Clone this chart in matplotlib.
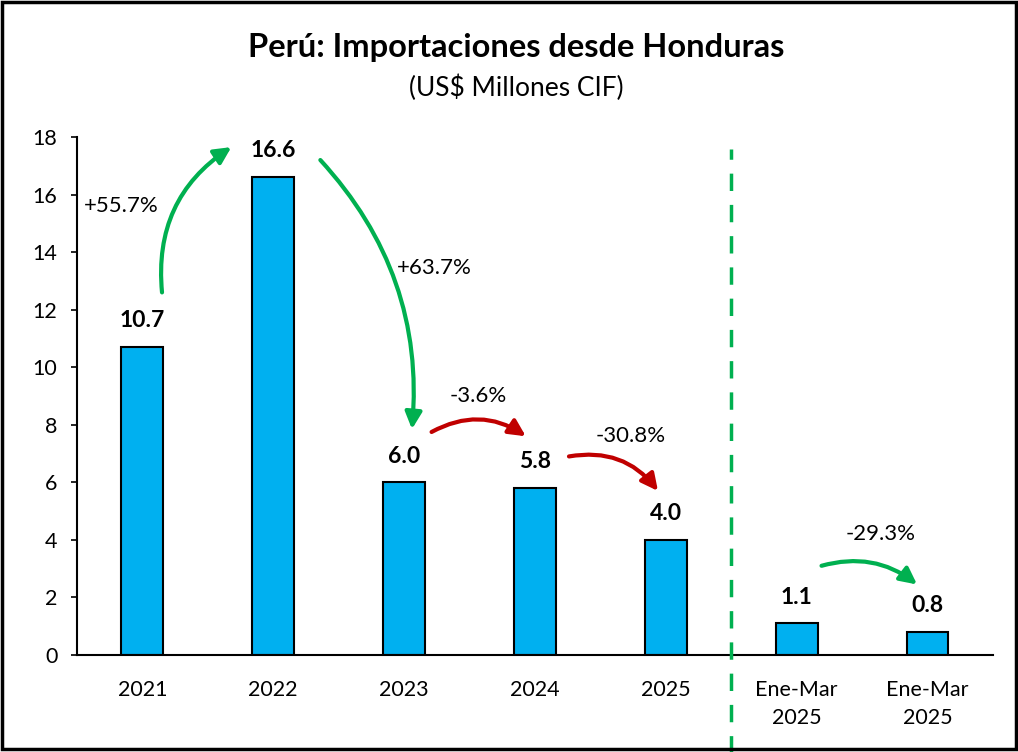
import matplotlib.pyplot as plt
from matplotlib.patches import Rectangle

plt.rcParams['font.family'] = ['Lato', 'DejaVu Sans']

# datos
categorias = ['2021', '2022', '2023', '2024', '2025', 'Ene-Mar\n2025', 'Ene-Mar\n2025']
valores = [10.7, 16.6, 6.0, 5.8, 4.0, 1.1, 0.8]
etiquetas = ['10.7', '16.6', '6.0', '5.8', '4.0', '1.1', '0.8']

# variaciones: (texto, x texto, y texto, inicio flecha, fin flecha, color, curva)
variaciones = [
    ('+55.7%', -0.16, 15.6, (0.15, 12.6), (0.68, 17.65), '#00B050', -0.3),
    ('+63.7%', 2.23, 13.45, (1.36, 17.2), (2.06, 7.85), '#00B050', -0.22),
    ('-3.6%', 2.57, 9.0, (2.21, 7.75), (2.93, 7.6), '#C00000', -0.3),
    ('-30.8%', 3.73, 7.6, (3.26, 6.9), (3.94, 5.7), '#C00000', -0.3),
    ('-29.3%', 5.64, 4.2, (5.19, 3.1), (5.92, 2.45), '#00B050', -0.25),
]

fig = plt.figure(figsize=(10.18, 7.52), dpi=100)
ax = fig.add_axes([0.0756, 0.129, 0.8998, 0.6888])

x = range(len(valores))
ax.bar(x, valores, width=0.32, color='#00B0F0', edgecolor='black', linewidth=1.5, zorder=2)

for i, v in enumerate(valores):
    ax.text(i, v + 0.55, etiquetas[i], ha='center', va='bottom', fontsize=16.5, fontweight='bold')

for txt, tx, ty, p0, p1, col, rad in variaciones:
    ax.annotate('', xy=p1, xytext=p0,
                arrowprops=dict(arrowstyle='-|>', color=col, lw=3, mutation_scale=25,
                                shrinkA=0, shrinkB=0,
                                connectionstyle=f'arc3,rad={rad}'))
    ax.text(tx, ty, txt, ha='center', va='center', fontsize=16)

# separador
ax.plot([4.5, 4.5], [-3.4, 17.6], color='#00B050', lw=2.5, ls=(0, (5, 4)), clip_on=False, zorder=3)

ax.set_xlim(-0.5, 6.5)
ax.set_ylim(0, 18)
ax.set_yticks(range(0, 19, 2))
ax.set_xticks(list(x))
ax.set_xticklabels(categorias, fontsize=15.5, linespacing=1.5)
ax.tick_params(axis='x', length=0, pad=18)
ax.tick_params(axis='y', labelsize=15.5, length=4, width=1.2, pad=10)
for s in ['top', 'right']:
    ax.spines[s].set_visible(False)
for s in ['left', 'bottom']:
    ax.spines[s].set_linewidth(1.5)

fig.text(0.507, 0.937, 'Perú: Importaciones desde Honduras', ha='center', va='center',
         fontsize=23.5, fontweight='bold')
fig.text(0.507, 0.883, '(US$ Millones CIF)', ha='center', va='center', fontsize=19)

fig.patches.append(Rectangle((0.002, 0.004), 0.996, 0.993, transform=fig.transFigure,
                             fill=False, edgecolor='black', lw=2.5))

fig.savefig('out.png', dpi=100)
